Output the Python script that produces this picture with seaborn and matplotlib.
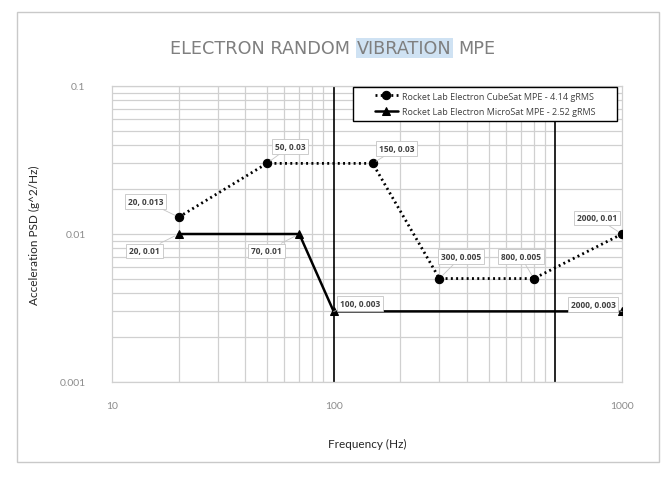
import matplotlib
matplotlib.use("Agg")
import matplotlib.pyplot as plt
import matplotlib.ticker as mticker
from matplotlib.patches import Rectangle
import seaborn as sns

# data
cube_freq = [20, 50, 150, 300, 800, 2000]
cube_psd = [0.013, 0.03, 0.03, 0.005, 0.005, 0.01]
micro_freq = [20, 70, 100, 2000]
micro_psd = [0.01, 0.01, 0.003, 0.003]
cube_name = "Rocket Lab Electron CubeSat MPE - 4.14 gRMS"
micro_name = "Rocket Lab Electron MicroSat MPE - 2.52 gRMS"
xtick_pos = [10, 100, 2000]
xtick_labels = ["10", "100", "1000"]
ytick_pos = [0.001, 0.01, 0.1]
ytick_labels = ["0.001", "0.01", "0.1"]

# callout offsets (pixels) for the data labels
cube_offsets = [(-33, 16), (23, 17), (24, 15), (22, 22), (-13, 22), (-25, 16)]
micro_offsets = [(-34, -17), (-33, -17), (26, 8), (-29, 7)]

sns.set_style("white")
plt.rcParams["font.family"] = ["Lato", "DejaVu Sans"]

fig = plt.figure(figsize=(6.71, 4.81), dpi=100)
ax = fig.add_axes([112 / 671, 1 - 383 / 481, 510 / 671, 296 / 481])

# outer frame of the chart area
fig.patches.append(Rectangle((17 / 671, 1 - 463 / 481), 642 / 671, 450 / 481,
                             transform=fig.transFigure, fill=False,
                             ec="#c9c9c9", lw=1))

sns.lineplot(x=cube_freq, y=cube_psd, ax=ax, color="black", lw=2.0,
             linestyle=(0, (0.7, 1.2)), marker="o", markersize=6,
             markeredgecolor="black", label=cube_name, zorder=4)
sns.lineplot(x=micro_freq, y=micro_psd, ax=ax, color="black", lw=1.8,
             linestyle="-", marker="^", markersize=5.5,
             markeredgecolor="black", label=micro_name, zorder=4)

ax.set_xscale("log")
ax.set_yscale("log")
ax.set_xlim(10, 2000)
ax.set_ylim(0.001, 0.1)

# gridlines: gray minor/major, black decade verticals
ax.xaxis.set_minor_locator(mticker.LogLocator(base=10, subs=range(2, 10), numticks=20))
ax.yaxis.set_minor_locator(mticker.LogLocator(base=10, subs=range(2, 10), numticks=20))
ax.grid(which="minor", axis="both", color="#d0d0d0", lw=0.9)
ax.grid(which="major", axis="y", color="#d0d0d0", lw=0.9)
for dec in [100, 1000]:
    ax.axvline(dec, color="black", lw=1.2, zorder=2)

ax.set_xticks(xtick_pos)
ax.set_xticklabels(xtick_labels)
ax.set_yticks(ytick_pos)
ax.set_yticklabels(ytick_labels)
ax.xaxis.set_minor_formatter(mticker.NullFormatter())
ax.yaxis.set_minor_formatter(mticker.NullFormatter())
ax.tick_params(which="both", length=0)
ax.tick_params(axis="x", pad=14, labelsize=7.5, labelcolor="#8c8c8c")
ax.tick_params(axis="y", pad=19, labelsize=7.5, labelcolor="#8c8c8c")
for s in ax.spines.values():
    s.set_color("#d0d0d0")
    s.set_linewidth(0.9)

ax.set_xlabel("Frequency (Hz)", fontsize=8.5, color="#262626", labelpad=20)
ax.set_ylabel("Acceleration PSD (g^2/Hz)", fontsize=8.5, color="#262626", labelpad=14)

# data label callouts
box = dict(boxstyle="square,pad=0.35", fc="white", ec="#c4c4c4", lw=0.6)
arrow = dict(arrowstyle="-", color="#c4c4c4", lw=0.6, shrinkA=0, shrinkB=3)
for xs, ys, offs in [(cube_freq, cube_psd, cube_offsets),
                     (micro_freq, micro_psd, micro_offsets)]:
    for f, p, off in zip(xs, ys, offs):
        ax.annotate(f"{f}, {p:g}", xy=(f, p), xytext=off,
                    textcoords="offset pixels", ha="center", va="center",
                    fontsize=6, fontweight="bold", color="#404040",
                    family=["Open Sans", "DejaVu Sans"],
                    bbox=box, arrowprops=arrow, zorder=5)

# legend: own frame box, entries centred inside it
ax.add_patch(Rectangle(((353 - 112) / 510, (383 - 122) / 296), 264 / 510, 34 / 296,
                       transform=ax.transAxes, fc="white", ec="black", lw=1.0,
                       zorder=6, clip_on=False))
leg = ax.legend(loc="center", bbox_to_anchor=((485 - 112) / 510, (383 - 105) / 296),
                frameon=False, borderpad=0.2, handlelength=2.6,
                handletextpad=0.4, labelspacing=0.75,
                prop={"family": ["Open Sans", "DejaVu Sans"], "size": 6.5})
leg.set_zorder(7)
for t in leg.get_texts():
    t.set_color("#404040")

# title, with the highlighted word
tcol = "#7f7f7f"
tsize = 12.7
t1 = fig.text(170 / 671, 1 - 49 / 481, "ELECTRON RANDOM", fontsize=tsize,
              color=tcol, ha="left", va="center", family=["DejaVu Sans"])
t2 = plt.annotate("VIBRATION", xy=(1, 0), xycoords=t1, xytext=(7, 0),
                  textcoords="offset pixels", va="bottom", ha="left",
                  fontsize=tsize, color=tcol, family=["DejaVu Sans"],
                  annotation_clip=False,
                  bbox=dict(boxstyle="square,pad=0.08", fc="#cfe2f3", ec="none"))
t3 = plt.annotate("MPE", xy=(1, 0), xycoords=t2, xytext=(7, 0),
                  textcoords="offset pixels", va="bottom", ha="left",
                  fontsize=tsize, color=tcol, family=["DejaVu Sans"],
                  annotation_clip=False)

fig.savefig("out.png", dpi=100)
